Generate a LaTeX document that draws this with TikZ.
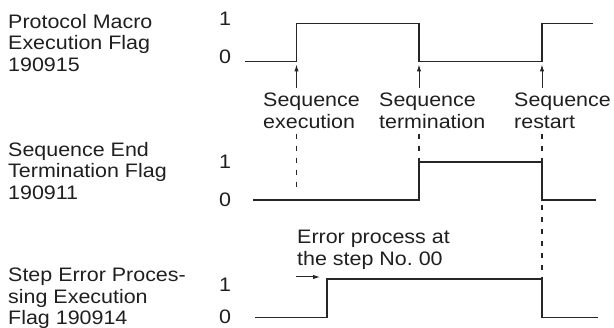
\documentclass[tikz,border=0pt]{standalone}
\usepackage{fontspec}
\setmainfont[FakeStretch=1.1]{Liberation Sans}
\usepackage{tikz}
\usetikzlibrary{arrows.meta,positioning,calc}

\newcommand{\flagfont}{\fontsize{19.5}{21.5}\selectfont}

\begin{document}
\begin{tikzpicture}[x=1pt,y=-1pt,
  lbl/.style={anchor=north west,inner sep=0pt,align=left,font=\flagfont,text=black!88},
  lvl/.style={inner sep=0pt,font=\flagfont,text=black!88},
  sig/.style={line width=1.2pt,black!85},
  arr/.style={-{Latex[length=7pt,width=4.5pt]},line width=1pt,black!85},
  dsh/.style={line width=1.1pt,black!85,dash pattern=on 5pt off 7pt}
]
  \useasboundingbox (0,0) rectangle (614,328);

  % flag names
  \node[lbl](pmflag) at (8,14){Protocol Macro\\Execution Flag\\190915};
  \node[lbl](seflag) at (8,142){Sequence End\\Termination Flag\\190911};
  \node[lbl](seeflag) at (8,268){Step Error Proces-\\sing Execution\\Flag 190914};

  % levels
  \node[lvl](pm1) at (225,18.5){1};
  \node[lvl](pm0) at (225,56.5){0};
  \node[lvl](se1) at (225,161.5){1};
  \node[lvl](se0) at (225,200){0};
  \node[lvl](see1) at (225,285){1};
  \node[lvl](see0) at (225,316.5){0};

  % edges of the signals
  \coordinate (pmA) at (245,61.5);
  \coordinate (up1) at (296.5,61.5);
  \coordinate (up2) at (419,61.5);
  \coordinate (up3) at (542,61.5);
  \coordinate (pmB) at (593,23.5);
  \coordinate (seA) at (253,200);
  \coordinate (se2) at (419,162);
  \coordinate (se3) at (542,162);
  \coordinate (seB) at (596,200);
  \coordinate (dn1) at (296.5,190);
  \coordinate (seeA) at (255,317.5);
  \coordinate (see1r) at (327,279);
  \coordinate (see3) at (542,279);
  \coordinate (seeB) at (598,317.5);
  \coordinate (errtip) at (320,277);

  % signals
  \draw[sig](pmA)--(up1)--(296.5,23.5)--(419,23.5)--(up2)--(up3)--(542,23.5)--(pmB);
  \draw[sig](seA)--(419,200)--(se2)--(se3)--(542,200)--(seB);
  \draw[sig](seeA)--(327,317.5)--(see1r)--(see3)--(542,317.5)--(seeB);

  % events
  \node[lbl](exec) at (263,93){Sequence\\execution};
  \node[lbl](term) at (379,93){Sequence\\termination};
  \node[lbl](rest) at (514,93){Sequence\\restart};
  \node[lbl](err) at (297,230){Error process at\\the step No.~00};

  \draw[arr,shorten >=3pt]([yshift=5pt]exec.north -| up1)--(up1);
  \draw[arr,shorten >=3pt]([yshift=5pt]term.north -| up2)--(up2);
  \draw[arr,shorten >=3pt]([yshift=5pt]rest.north -| up3)--(up3);
  \draw[arr]([xshift=-1pt]err.south west |- errtip)--(errtip);

  \draw[dsh]([yshift=-5pt]exec.south -| up1)--(dn1);
  \draw[dsh]([yshift=-5pt]term.south -| se2)--(se2);
  \draw[dsh]([yshift=-5pt]rest.south -| se3)--(se3);
  \draw[dsh]([yshift=-5pt]se3 |- seA)--(see3);
\end{tikzpicture}
\end{document}
